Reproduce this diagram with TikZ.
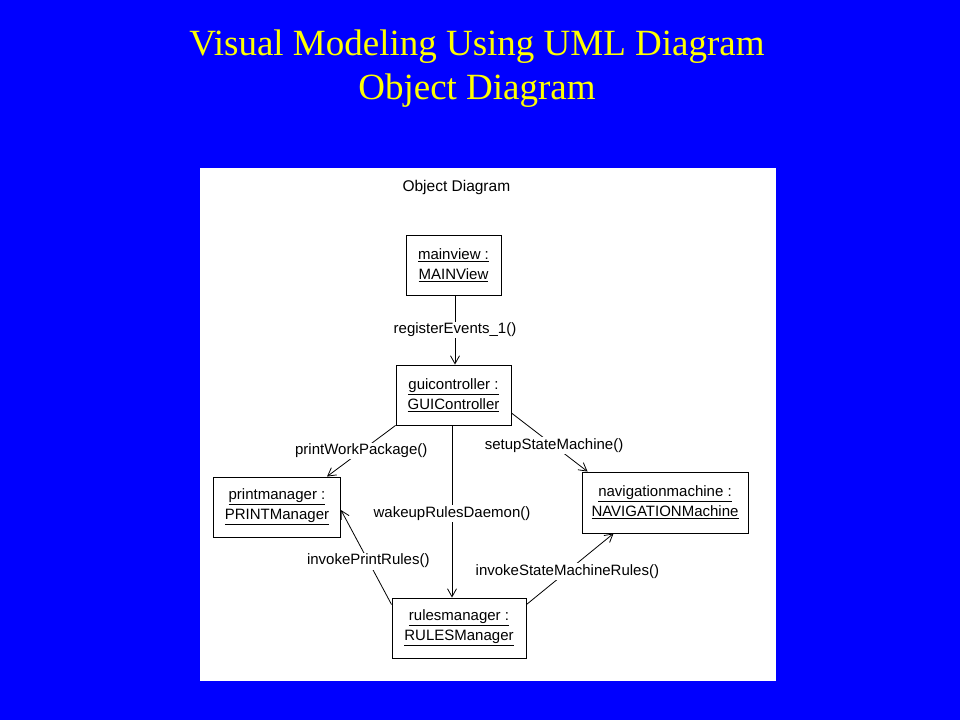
\documentclass[tikz,border=0pt]{standalone}
\usepackage{fontspec}
\setmainfont{Liberation Serif}
\newfontfamily\diag{Liberation Sans}
\usetikzlibrary{arrows.meta}
\definecolor{slideblue}{RGB}{0,0,255}
\definecolor{titleyellow}{RGB}{255,255,0}
\begin{document}
\begin{tikzpicture}[x=1pt,y=-1pt,
  obj/.style={draw=black,line width=0.9pt,fill=white,align=center,inner sep=0pt,
    font=\diag\fontsize{15}{20}\selectfont},
  lbl/.style={fill=white,inner sep=1.5pt,font=\diag\fontsize{15}{17}\selectfont},
  arr/.style={draw=black,line width=0.8pt,-{Straight Barb[length=8pt,width=9pt,line width=0.8pt]}}]
\useasboundingbox (0,0) rectangle (960,720);
\fill[slideblue] (0,0) rectangle (960,720);
\node[text=titleyellow,font=\fontsize{37}{44}\selectfont,align=center] (title) at (477,69)
  {Visual Modeling Using UML Diagram\\Object Diagram};
\fill[white] (200,168) rectangle (776,681);
\node[font=\diag\fontsize{15.5}{17}\selectfont,anchor=west] (cap) at (399,187) {Object Diagram};
\node[obj,minimum width=95pt,minimum height=60pt] (mv) at (453.5,265) {\underline{mainview :}\\\underline{MAINView}};
\node[obj,minimum width=115pt,minimum height=60pt] (gc) at (453.5,395) {\underline{guicontroller :}\\\underline{GUIController}};
\node[obj,minimum width=127pt,minimum height=60pt] (pm) at (277,507) {\underline{printmanager :}\\\underline{PRINTManager}};
\node[obj,minimum width=166pt,minimum height=61pt] (nm) at (665,502.5) {\underline{navigationmachine :}\\\underline{NAVIGATIONMachine}};
\node[obj,minimum width=134pt,minimum height=60pt] (rm) at (459,628) {\underline{rulesmanager :}\\\underline{RULESManager}};
\draw[arr] ([xshift=1.5pt]mv.south) -- node[lbl]{registerEvents\_1()} ([xshift=1.5pt]gc.north);
\draw[arr] (gc.south west) -- node[lbl]{printWorkPackage()} ([xshift=50pt]pm.north);
\draw[arr] ([yshift=-18pt]gc.east) -- node[lbl,pos=0.56]{setupStateMachine()} ([xshift=6pt]nm.north west);
\draw[arr] ([xshift=-1.5pt]gc.south) -- node[lbl,pos=0.51]{wakeupRulesDaemon()} ([xshift=-7pt]rm.north);
\draw[arr] ([yshift=-7pt]rm.north west) -- node[lbl,pos=0.46]{invokePrintRules()} ([yshift=-3pt]pm.east);
\draw[arr] ([yshift=-7pt]rm.north east) -- node[lbl,pos=0.47]{invokeStateMachineRules()} ([xshift=32pt]nm.south west);
\end{tikzpicture}
\end{document}
